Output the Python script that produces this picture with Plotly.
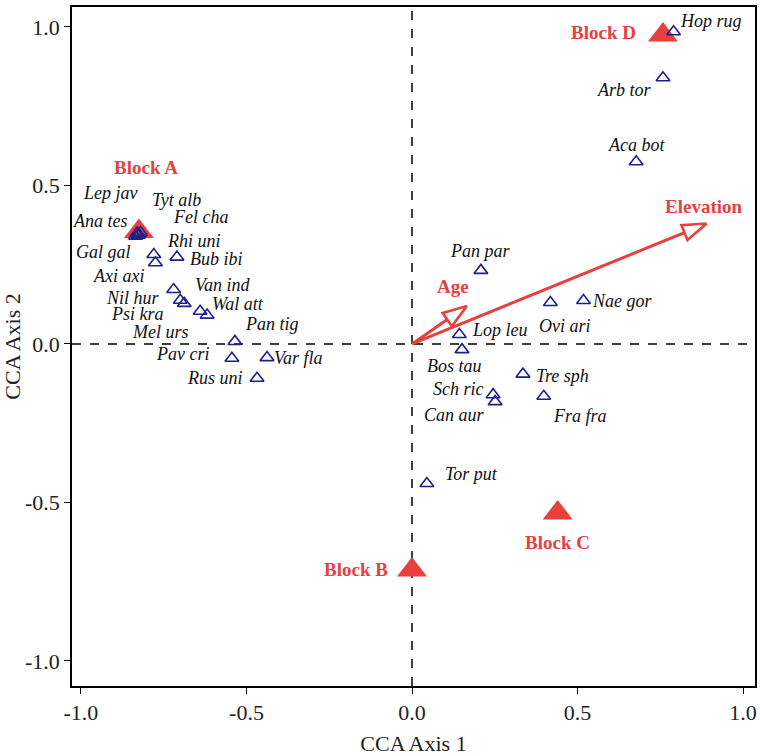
import math
import plotly.graph_objects as go

# ---- data ----
species = ["Lep jav", "Tyt alb", "Ana tes", "Fel cha", "Rhi uni", "Gal gal", "Axi axi",
           "Bub ibi", "Van ind", "Nil hur", "Psi kra", "Mel urs", "Wal att", "Pan tig",
           "Pav cri", "Var fla", "Rus uni", "Pan par", "Ovi ari", "Nae gor", "Lop leu",
           "Bos tau", "Tre sph", "Sch ric", "Can aur", "Fra fra", "Tor put", "Hop rug",
           "Arb tor", "Aca bot"]
sp_x = [-0.83, -0.825, -0.835, -0.82, -0.828, -0.78, -0.775, -0.71, -0.72, -0.70,
        -0.688, -0.64, -0.619, -0.535, -0.544, -0.438, -0.468, 0.208, 0.418, 0.518,
        0.143, 0.151, 0.335, 0.245, 0.251, 0.398, 0.045, 0.79, 0.758, 0.677]
sp_y = [0.35, 0.345, 0.34, 0.352, 0.343, 0.282, 0.256, 0.274, 0.172, 0.138, 0.128,
        0.103, 0.091, 0.008, -0.045, -0.043, -0.108, 0.232, 0.131, 0.137, 0.03,
        -0.018, -0.095, -0.16, -0.182, -0.165, -0.44, 0.985, 0.84, 0.575]
# label offsets in pixels (dx right, dy down)
sp_dx = [-27, 38, -35, 60, 56, -50, -37, 40, 49, -47, -47, -40, 31, 37, -49, 31, -42,
         -1, 15, 38, 41, -8, 40, -35, -41, 36, 45, 37, -38, 0]
sp_dy = [-40, -35, -15, -15, 6, -3, 13, 2, -4, -2, 11, 21, -11, -17, -4, 0, 0,
         -19, 24, 0, -4, 16, 2, -6, 13, 20, -9, -11, 12, -17]

blocks = ["Block A", "Block B", "Block C", "Block D"]
block_x = [-0.825, 0.0, 0.44, 0.758]
block_y = [0.355, -0.713, -0.533, 0.975]
block_dx = [7, -56, 0, -59]
block_dy = [-64, 0, 30, -2]

env = ["Age", "Elevation"]
env_x = [0.166, 0.89]
env_y = [0.12, 0.38]
env_dx = [-14, -3]
env_dy = [-19, -17]

tick_vals = [-1.0, -0.5, 0.0, 0.5, 1.0]
tick_text = ["-1.0", "-0.5", "0.0", "0.5", "1.0"]

RED = "#E8403F"
NAVY = "#1E1E90"
FONT = "Liberation Serif"

W, H = 760, 756
ML, MR, MT, MB = 72, 5, 7, 70
XR = [-1.027, 1.036]
YR = [-1.079, 1.063]
px_x = (W - ML - MR) / (XR[1] - XR[0])
px_y = (H - MT - MB) / (YR[1] - YR[0])
HEAD_LEN, HEAD_HALF = 24, 8

fig = go.Figure()

# environmental arrows (line + open arrowhead computed in screen space)
for ex, ey in zip(env_x, env_y):
    tx, ty = ex * px_x, ey * px_y
    L = math.hypot(tx, ty)
    ux, uy = tx / L, ty / L
    pxv, pyv = -uy, ux
    mx, my = tx - HEAD_LEN * ux, ty - HEAD_LEN * uy
    b1 = ((mx + HEAD_HALF * pxv) / px_x, (my + HEAD_HALF * pyv) / px_y)
    b2 = ((mx - HEAD_HALF * pxv) / px_x, (my - HEAD_HALF * pyv) / px_y)
    fig.add_trace(go.Scatter(
        x=[0, mx / px_x], y=[0, my / px_y], mode="lines",
        line=dict(color=RED, width=3), hoverinfo="skip", showlegend=False))
    fig.add_trace(go.Scatter(
        x=[ex, b1[0], b2[0], ex], y=[ey, b1[1], b2[1], ey], mode="lines",
        fill="toself", fillcolor="rgba(255,255,255,0)",
        line=dict(color=RED, width=2.6), hoverinfo="skip", showlegend=False))

# blocks
fig.add_trace(go.Scatter(
    x=block_x, y=block_y, mode="markers",
    marker=dict(symbol="triangle-up", size=26, color=RED),
    showlegend=False))

# species
fig.add_trace(go.Scatter(
    x=sp_x, y=sp_y, mode="markers",
    marker=dict(symbol="triangle-up-open", size=12, color=NAVY, line=dict(color=NAVY, width=1.6)),
    showlegend=False))

ann = []
for t, x, y, dx, dy in zip(species, sp_x, sp_y, sp_dx, sp_dy):
    ann.append(dict(x=x, y=y, text=t, showarrow=False, xshift=dx, yshift=-dy,
                    font=dict(family=FONT, size=18, color="#111111", style="italic")))
for t, x, y, dx, dy in zip(blocks, block_x, block_y, block_dx, block_dy):
    ann.append(dict(x=x, y=y, text="<b>" + t + "</b>", showarrow=False, xshift=dx, yshift=-dy,
                    font=dict(family=FONT, size=19, color=RED)))
for t, x, y, dx, dy in zip(env, env_x, env_y, env_dx, env_dy):
    ann.append(dict(x=x, y=y, text="<b>" + t + "</b>", showarrow=False, xshift=dx, yshift=-dy,
                    font=dict(family=FONT, size=19, color=RED)))

shapes = [
    dict(type="line", xref="x", yref="paper", x0=0, x1=0, y0=0, y1=1,
         line=dict(color="black", width=1.5, dash="dash"), layer="below"),
    dict(type="line", xref="paper", yref="y", x0=0, x1=1, y0=0, y1=0,
         line=dict(color="black", width=1.5, dash="dash"), layer="below"),
]

axis_common = dict(showgrid=False, zeroline=False, showline=True, mirror=True,
                   linecolor="black", linewidth=1.5, ticks="outside", ticklen=6,
                   tickwidth=1.2, tickcolor="black", automargin=False,
                   tickvals=tick_vals, ticktext=tick_text,
                   tickfont=dict(family=FONT, size=22, color="#222222"))

fig.update_layout(
    width=W, height=H,
    margin=dict(l=ML, r=MR, t=MT, b=MB),
    plot_bgcolor="white", paper_bgcolor="white",
    annotations=ann, shapes=shapes,
    xaxis=dict(range=XR,
               title=dict(text="CCA Axis 1", font=dict(family=FONT, size=22, color="#222222"), standoff=18),
               **axis_common),
    yaxis=dict(range=YR,
               title=dict(text="CCA Axis 2", font=dict(family=FONT, size=22, color="#222222"), standoff=6),
               **axis_common),
)

fig.write_html("out.html", config={"displayModeBar": False},
               post_script="document.body.style.margin='0px';document.body.style.overflow='hidden';")
